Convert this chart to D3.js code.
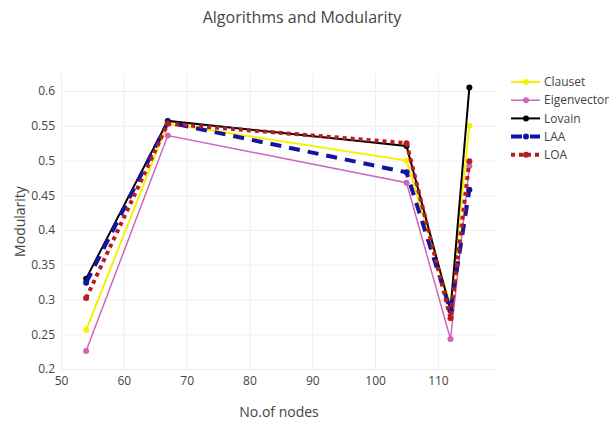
<!DOCTYPE html>
<html><head><meta charset="utf-8">
<script src="https://cdn.jsdelivr.net/npm/d3@7"></script>
<style>body{margin:0;background:#fff}svg{display:block}text{font-family:"Open Sans",sans-serif;fill:#444}</style>
</head><body><svg id="c" width="609" height="421"></svg>
<script>
const nodes = [54, 67, 105, 112, 115];
const seriesNames = ["Clauset", "Eigenvector", "Lovain", "LAA", "LOA"];
const clauset = [0.256, 0.553, 0.500, 0.292, 0.550];
const eigenvector = [0.226, 0.536, 0.468, 0.243, 0.492];
const lovain = [0.330, 0.557, 0.521, 0.285, 0.605];
const laa = [0.324, 0.555, 0.483, 0.284, 0.458];
const loa = [0.302, 0.553, 0.525, 0.273, 0.499];
const xTicks = [50, 60, 70, 80, 90, 100, 110];
const yTicks = [0.2, 0.25, 0.3, 0.35, 0.4, 0.45, 0.5, 0.55, 0.6];

const styles = {
  Clauset: {color: "#f5f200", width: 2, dash: null, r: 3},
  Eigenvector: {color: "#cc66bb", width: 1.5, dash: null, r: 3},
  Lovain: {color: "#000000", width: 2, dash: null, r: 3},
  LAA: {color: "#1414a0", width: 4, dash: "11,8", r: 3},
  LOA: {color: "#b81c1c", width: 4, dash: "4,4", r: 3}
};
const data = [clauset, eigenvector, lovain, laa, loa];

const svg = d3.select("#c");
const L = 61, R = 497, T = 74, B = 369;
const x = d3.scaleLinear().domain([50, 119.4]).range([L, R]);
const y = d3.scaleLinear().domain([0.2, 0.6245]).range([B, T]);

// grid
const xAxis = d3.axisBottom(x).tickValues(xTicks).tickSize(-(B - T)).tickFormat(d3.format("d"));
const yAxis = d3.axisLeft(y).tickValues(yTicks).tickSize(-(R - L)).tickFormat(d => String(+d.toFixed(2)));
const gx = svg.append("g").attr("transform", `translate(0,${B})`).call(xAxis);
const gy = svg.append("g").attr("transform", `translate(${L},0)`).call(yAxis);
[gx, gy].forEach(g => {
  g.select(".domain").remove();
  g.selectAll(".tick line").attr("stroke", "#eeeeee").attr("stroke-width", 1);
  g.selectAll(".tick text").style("font-size", "12px").attr("fill", "#444");
});
gx.selectAll(".tick text").attr("dy", "0.71em").attr("y", 7);
gy.selectAll(".tick text").attr("x", -6);

// lines
const line = d3.line().x((d, i) => x(nodes[i])).y(d => y(d));
seriesNames.forEach((name, k) => {
  const s = styles[name];
  const g = svg.append("g");
  g.append("path").datum(data[k]).attr("d", line).attr("fill", "none")
    .attr("stroke", s.color).attr("stroke-width", s.width)
    .attr("stroke-dasharray", s.dash).attr("stroke-linejoin", "miter");
  g.selectAll("circle").data(data[k]).join("circle")
    .attr("cx", (d, i) => x(nodes[i])).attr("cy", d => y(d)).attr("r", s.r)
    .attr("fill", s.color);
});

// title
svg.append("text").attr("x", 302).attr("y", 23).attr("text-anchor", "middle")
  .style("font-size", "16px").text("Algorithms and Modularity");
svg.append("text").attr("x", (L + R) / 2).attr("y", 417).attr("text-anchor", "middle")
  .style("font-size", "14px").text("No.of nodes");
svg.append("text").attr("transform", `translate(25,${(T + B) / 2}) rotate(-90)`)
  .attr("text-anchor", "middle").style("font-size", "14px").text("Modularity");

// legend
const lg = svg.append("g").attr("transform", "translate(511,82)");
seriesNames.forEach((name, k) => {
  const s = styles[name];
  const g = lg.append("g").attr("transform", `translate(0,${k * 18.2})`);
  g.append("line").attr("x1", 0).attr("x2", 29).attr("y1", 0).attr("y2", 0)
    .attr("stroke", s.color).attr("stroke-width", s.width).attr("stroke-dasharray", s.dash);
  g.append("circle").attr("cx", 15).attr("cy", 0).attr("r", s.r).attr("fill", s.color);
  g.append("text").attr("x", 33).attr("y", 0).attr("dy", "0.35em")
    .style("font-size", "12px").text(name);
});
</script></body></html>
